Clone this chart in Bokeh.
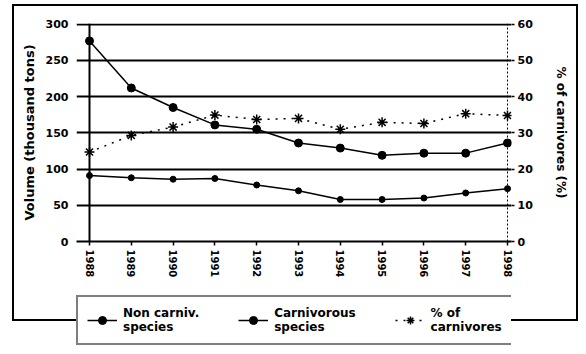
from bokeh.plotting import figure
from bokeh.layouts import column
from bokeh.models import (Range1d, LinearAxis, Span, Legend, LegendItem,
                          FixedTicker, InlineStyleSheet)
from bokeh.embed import file_html
from bokeh.resources import INLINE

# ---- data ----
years = [1988, 1989, 1990, 1991, 1992, 1993, 1994, 1995, 1996, 1997, 1998]
non_carniv = [277, 212, 185, 161, 155, 136, 129, 119, 122, 122, 136]
carniv = [91, 88, 86, 87, 78, 70, 58, 58, 60, 67, 73]
pct_carniv = [24.7, 29.3, 31.6, 34.9, 33.7, 34.0, 31.0, 32.9, 32.6, 35.3, 34.8]
year_labels = [str(y) for y in years]
left_ticks = [0, 50, 100, 150, 200, 250, 300]
right_ticks = [0, 10, 20, 30, 40, 50, 60]
series_names = ["Non carniv.\nspecies", "Carnivorous\nspecies", "% of\ncarnivores"]

FONT = "DejaVu Sans"

# frame spans 435 px; first year sits 13 px in, last year 4 px before the right edge
PX_PER_YEAR = 418 / (years[-1] - years[0])
x_start = years[0] - 13 / PX_PER_YEAR
x_end = years[-1] + 4 / PX_PER_YEAR

p = figure(width=586, height=290, output_backend="svg", toolbar_location=None,
           x_range=Range1d(x_start, x_end), y_range=Range1d(0, 301),
           min_border_left=76, min_border_right=75, min_border_top=23,
           min_border_bottom=49, background_fill_alpha=0.0,
           border_fill_alpha=0.0)
p.outline_line_color = None
p.extra_y_ranges = {"pct": Range1d(0, 60 * 301 / 300)}

# grid
p.xgrid.visible = False
p.ygrid.ticker = FixedTicker(ticks=left_ticks)
p.ygrid.grid_line_color = "black"
p.ygrid.grid_line_width = 2

def style_text(ax, tick_size, label_size):
    ax.major_label_text_font = FONT
    ax.major_label_text_font_style = "bold"
    ax.major_label_text_font_size = tick_size
    ax.major_label_text_color = "black"
    ax.axis_label_text_font = FONT
    ax.axis_label_text_font_style = "bold"
    ax.axis_label_text_font_size = label_size
    ax.axis_label_text_color = "black"
    ax.major_tick_line_color = "black"
    ax.minor_tick_line_color = None

# left axis
ya = p.yaxis[0]
ya.ticker = FixedTicker(ticks=left_ticks)
ya.axis_line_color = None
ya.major_tick_in = 0
ya.major_tick_out = 0
ya.major_label_standoff = 8
ya.axis_label = "Volume (thousand tons)"
ya.axis_label_standoff = 6
style_text(ya, "11px", "13px")

# right axis
ra = LinearAxis(y_range_name="pct", ticker=FixedTicker(ticks=right_ticks))
ra.axis_line_color = None
ra.major_tick_in = 0
ra.major_tick_out = 3
ra.major_tick_line_width = 1.5
ra.major_label_standoff = 3
ra.axis_label = "% of carnivores (%)"
ra.axis_label_standoff = 18
style_text(ra, "11px", "12px")
p.add_layout(ra, "right")

# bottom axis
xa = p.xaxis[0]
xa.ticker = FixedTicker(ticks=years)
xa.major_label_overrides = {y: s for y, s in zip(years, year_labels)}
xa.major_label_orientation = "vertical"
xa.axis_line_width = 2
xa.major_tick_in = 0
xa.major_tick_out = 4
xa.major_tick_line_width = 1.5
xa.major_label_standoff = 4
style_text(xa, "10px", "10px")

# vertical axis lines at first and last year
p.add_layout(Span(location=years[0], dimension="height", line_color="black", line_width=2))
p.add_layout(Span(location=years[-1], dimension="height", line_color="black",
                  line_width=1, line_dash="2 2"))

# series
p.line(years, non_carniv, line_color="black", line_width=1.5)
p.scatter(years, non_carniv, marker="circle", size=8, color="black")
p.line(years, carniv, line_color="black", line_width=1.5)
p.scatter(years, carniv, marker="circle", size=6, color="black")
p.line(years, pct_carniv, y_range_name="pct", line_color="black",
       line_width=1.5, line_dash="2 6")
p.scatter(years, pct_carniv, y_range_name="pct", marker="asterisk", size=10,
          line_color="black", line_width=1.5)

# ---- legend strip (its ranges keep the data out of view; only legend samples show) ----
q = figure(width=586, height=64, output_backend="svg", toolbar_location=None,
           x_range=Range1d(0, 1), y_range=Range1d(0, 1),
           min_border_left=76, min_border_right=75, min_border_top=0, min_border_bottom=0,
           background_fill_alpha=0.0, border_fill_alpha=0.0)
q.axis.visible = False
q.grid.visible = False
q.outline_line_color = None
k1 = q.line(years, non_carniv, line_color="black", line_width=1.5)
m1 = q.scatter(years, non_carniv, marker="circle", size=8, color="black")
k2 = q.line(years, carniv, line_color="black", line_width=1.5)
m2 = q.scatter(years, carniv, marker="circle", size=6, color="black")
k3 = q.line(years, pct_carniv, line_color="black", line_width=1.5, line_dash="2 6")
m3 = q.scatter(years, pct_carniv, marker="asterisk", size=10, line_color="black",
               line_width=1.5)

legend = Legend(items=[LegendItem(label=series_names[0], renderers=[k1, m1]),
                       LegendItem(label=series_names[1], renderers=[k2, m2]),
                       LegendItem(label=series_names[2], renderers=[k3, m3])],
                orientation="horizontal", location=(0, 9),
                border_line_color="black", border_line_width=2,
                background_fill_color="white", background_fill_alpha=1.0,
                glyph_width=30, glyph_height=20, label_standoff=6, spacing=39,
                padding=9, margin=0,
                label_text_font=FONT, label_text_font_style="bold",
                label_text_font_size="12px", label_text_line_height=1.45,
                label_text_color="black")
q.add_layout(legend, "center")

frame_css = InlineStyleSheet(css="""
:host { position: relative; }
:host::before {
  content: ''; position: absolute; left: 12px; top: 4px;
  width: 566px; height: 317px; box-sizing: border-box;
  border: 2.5px solid black; z-index: -1; pointer-events: none;
}
""")

layout = column(p, q, spacing=0, stylesheets=[frame_css])

open("out.html", "w").write(file_html(layout, INLINE))
